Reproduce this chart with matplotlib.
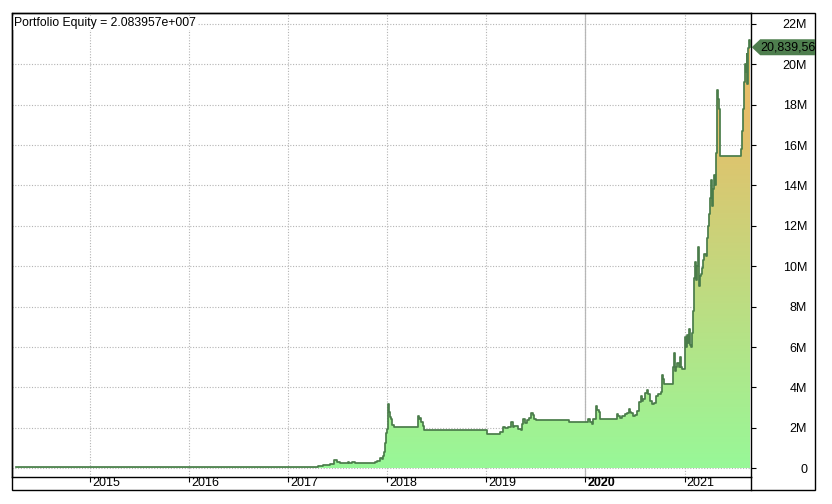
import numpy as np
import pandas as pd
import matplotlib
matplotlib.use("Agg")
import matplotlib.pyplot as plt
import matplotlib.dates as mdates
from matplotlib.patches import Polygon, Rectangle
from matplotlib.lines import Line2D
from matplotlib.transforms import IdentityTransform, ScaledTranslation, Bbox
from matplotlib.colors import LinearSegmentedColormap

plt.rcParams['font.family'] = ['Liberation Sans', 'DejaVu Sans']

# equity curve (millions)
dates = ["2014-04-01", "2017-03-25", "2017-04-21", "2017-05-09", "2017-06-04",
         "2017-06-19", "2017-06-30", "2017-07-11", "2017-08-09", "2017-08-14",
         "2017-08-24", "2017-09-04", "2017-11-17", "2017-11-24", "2017-12-05",
         "2017-12-13", "2017-12-16", "2017-12-20", "2017-12-23", "2017-12-27",
         "2017-12-31", "2018-01-03", "2018-01-07", "2018-01-11", "2018-01-14",
         "2018-01-18", "2018-01-25", "2018-04-24", "2018-04-27", "2018-05-01",
         "2018-05-05", "2018-05-12", "2018-05-16", "2019-01-04", "2019-02-20",
         "2019-03-03", "2019-03-11", "2019-03-22", "2019-04-02", "2019-04-09",
         "2019-04-13", "2019-04-28", "2019-05-09", "2019-05-13", "2019-05-16",
         "2019-05-24", "2019-05-31", "2019-06-07", "2019-06-14", "2019-06-22",
         "2019-06-25", "2019-07-03", "2019-11-02", "2020-01-11", "2020-01-18",
         "2020-01-25", "2020-01-29", "2020-02-09", "2020-02-12", "2020-02-19",
         "2020-02-23", "2020-04-27", "2020-04-30", "2020-05-08", "2020-05-15",
         "2020-05-19", "2020-05-26", "2020-06-02", "2020-06-10", "2020-06-13",
         "2020-06-17", "2020-06-24", "2020-07-02", "2020-07-09", "2020-07-13",
         "2020-07-16", "2020-07-24", "2020-07-27", "2020-07-31", "2020-08-07",
         "2020-08-15", "2020-08-18", "2020-08-26", "2020-09-02", "2020-09-09",
         "2020-09-17", "2020-09-24", "2020-10-05", "2020-10-09", "2020-10-13",
         "2020-10-16", "2020-11-19", "2020-11-22", "2020-11-26", "2020-11-30",
         "2020-12-04", "2020-12-11", "2020-12-15", "2020-12-19", "2020-12-22",
         "2021-01-02", "2021-01-06", "2021-01-10", "2021-01-13", "2021-01-17",
         "2021-01-21", "2021-01-24", "2021-01-28", "2021-02-01", "2021-02-05",
         "2021-02-09", "2021-02-12", "2021-02-16", "2021-02-20", "2021-02-23",
         "2021-02-27", "2021-03-03", "2021-03-07", "2021-03-10", "2021-03-14",
         "2021-03-21", "2021-03-25", "2021-03-29", "2021-04-01", "2021-04-05",
         "2021-04-09", "2021-04-12", "2021-04-16", "2021-04-20", "2021-04-24",
         "2021-04-27", "2021-04-30", "2021-05-02", "2021-05-06", "2021-05-09",
         "2021-05-12", "2021-07-27", "2021-07-31", "2021-08-03", "2021-08-08",
         "2021-08-12", "2021-08-16", "2021-08-18", "2021-08-21", "2021-08-24",
         "2021-08-27", "2021-08-30"]
equity_m = [0.05, 0.07, 0.10, 0.15, 0.20,
            0.40, 0.30, 0.27, 0.32, 0.27,
            0.33, 0.27, 0.30, 0.38, 0.50,
            0.45, 0.60, 0.80, 1.25, 1.75,
            1.95, 3.20, 2.80, 2.55, 2.45,
            2.15, 2.03, 2.60, 2.45, 2.50,
            2.30, 2.10, 1.91, 1.68, 1.80,
            2.05, 1.98, 2.02, 2.30, 2.05,
            2.10, 1.95, 1.90, 2.20, 2.45,
            2.25, 2.40, 2.50, 2.75, 2.65,
            2.45, 2.39, 2.28, 2.46, 2.30,
            2.20, 2.45, 3.10, 2.90, 2.80,
            2.46, 2.67, 2.60, 2.50, 2.60,
            2.58, 2.67, 2.72, 2.95, 2.80,
            2.75, 2.60, 2.62, 2.83, 2.85,
            3.30, 3.60, 3.35, 3.45, 3.73,
            3.86, 3.70, 3.35, 3.20, 3.22,
            3.60, 3.70, 3.80, 4.64, 4.40,
            4.16, 5.00, 5.73, 4.80, 5.00,
            5.20, 5.00, 5.50, 5.00, 4.90,
            6.50, 6.00, 6.60, 6.20, 6.90,
            6.10, 6.00, 6.70, 7.80, 9.40,
            10.20, 9.30, 10.00, 10.95, 9.00,
            9.50, 9.60, 9.90, 10.30, 10.60,
            10.50, 11.40, 12.00, 12.60, 13.40,
            14.25, 13.00, 13.80, 14.50, 14.00,
            15.60, 17.80, 18.70, 18.30, 17.80,
            15.45, 15.80, 16.70, 17.80, 19.10,
            20.00, 19.60, 20.50, 19.00, 20.80,
            21.20, 20.839567]

years = [2015, 2016, 2017, 2018, 2019, 2020, 2021]
y_ticks = [0, 2, 4, 6, 8, 10, 12, 14, 16, 18, 20, 22]
y_labels = ["0"] + [f"{v}M" for v in y_ticks[1:]]

x = pd.to_datetime(dates)
y = np.array(equity_m)
last = y[-1]

W, H = 832, 504
fig = plt.figure(figsize=(W / 100, H / 100), dpi=100)
fig.patch.set_facecolor("white")

L, R, T, B = 11.7, 750.7, 13.3, 476.7
ax = fig.add_axes([L / W, 1 - B / H, (R - L) / W, (B - T) / H])

xmin, xmax = pd.Timestamp("2014-03-17"), pd.Timestamp("2021-09-02")
ymin, ymax = -0.416, 22.52

# gradient fill under the curve (green at 0 -> orange near 17M)
poly = ax.fill_between(x, 0, y, step="post", facecolor="none", edgecolor="none")
cmap = LinearSegmentedColormap.from_list("eq", ["#98f898", "#e6be69"])
levels = np.linspace(0, ymax, 300)
grad = np.clip(levels / 17.5, 0, 1).reshape(-1, 1)
xl = mdates.date2num([xmin, xmax])
im = ax.imshow(grad, cmap=cmap, vmin=0, vmax=1, origin="lower", aspect="auto",
               extent=[xl[0], xl[1], 0, ymax], zorder=1.5)
im.set_clip_path(poly.get_paths()[0], transform=ax.transData)
ax.set_xlim(xmin, xmax)
ax.set_ylim(ymin, ymax)

ax.step(x, y, where="post", color="#4a7c4a", linewidth=1.25, zorder=3)

# grid
ax.set_xticks(pd.to_datetime([f"{yr}-01-01" for yr in years]))
ax.set_xticklabels([str(yr) for yr in years])
ax.set_yticks(y_ticks)
ax.set_yticklabels(y_labels)
ax.grid(True, color="#b4b4b4", linestyle=(0, (1, 1.5)), linewidth=0.8, zorder=0)
ax.set_axisbelow(True)
ax.axvline(pd.Timestamp("2020-01-01"), color="#b8b8b8", linewidth=0.9, zorder=0.5)

ax.tick_params(axis="x", direction="out", length=3.3, width=0.8, pad=-3.0,
               labelsize=9, colors="black")
for lab in ax.get_xticklabels():
    lab.set_horizontalalignment("left")
    lab.set_verticalalignment("top")
    lab.set_transform(lab.get_transform() + ScaledTranslation(2 / 100, 0, fig.dpi_scale_trans))
    if lab.get_text() == "2020":
        lab.set_fontweight("bold")

ax.yaxis.tick_right()
ax.tick_params(axis="y", direction="out", length=3.6, width=0.8, pad=37,
               labelsize=9, colors="black")
for lab in ax.get_yticklabels():
    lab.set_horizontalalignment("right")

for s in ax.spines.values():
    s.set_linewidth(1.0)
    s.set_color("black")

ax.text(0.003, 0.992, f"Portfolio Equity = {last * 1e6 / 1e7:.6f}e+007",
        transform=ax.transAxes, ha="left", va="top", fontsize=8.8,
        bbox=dict(facecolor="white", edgecolor="none", pad=0.5), zorder=5)

# outer frame
FR, FB = 815, 490.3
fig.add_artist(Rectangle((L / W, 1 - FB / H), (FR - L) / W, (FB - T) / H,
                         transform=fig.transFigure, fill=False,
                         edgecolor="black", linewidth=1.0))
fig.add_artist(Line2D([R / W, R / W], [1 - FB / H, 1 - B / H],
                      transform=fig.transFigure, color="black", linewidth=1.0))

# last value marker on the right axis
yc = ax.transData.transform((0, last))[1]
x0 = R + 1
marker = Polygon([(x0, yc), (x0 + 8.5, yc + 8), (FR, yc + 8), (FR, yc - 8), (x0 + 8.5, yc - 8)],
                 closed=True, transform=IdentityTransform(), facecolor="#4e7e4e",
                 edgecolor="none")
fig.add_artist(marker)
t = fig.text(x0 + 9, yc, f"{last * 1e6:,.0f}", transform=IdentityTransform(),
             ha="left", va="center", fontsize=9, color="black")
t.set_clip_box(Bbox([[x0, yc - 10], [FR, yc + 10]]))
t.set_clip_on(True)

fig.savefig("out.png", dpi=100)
